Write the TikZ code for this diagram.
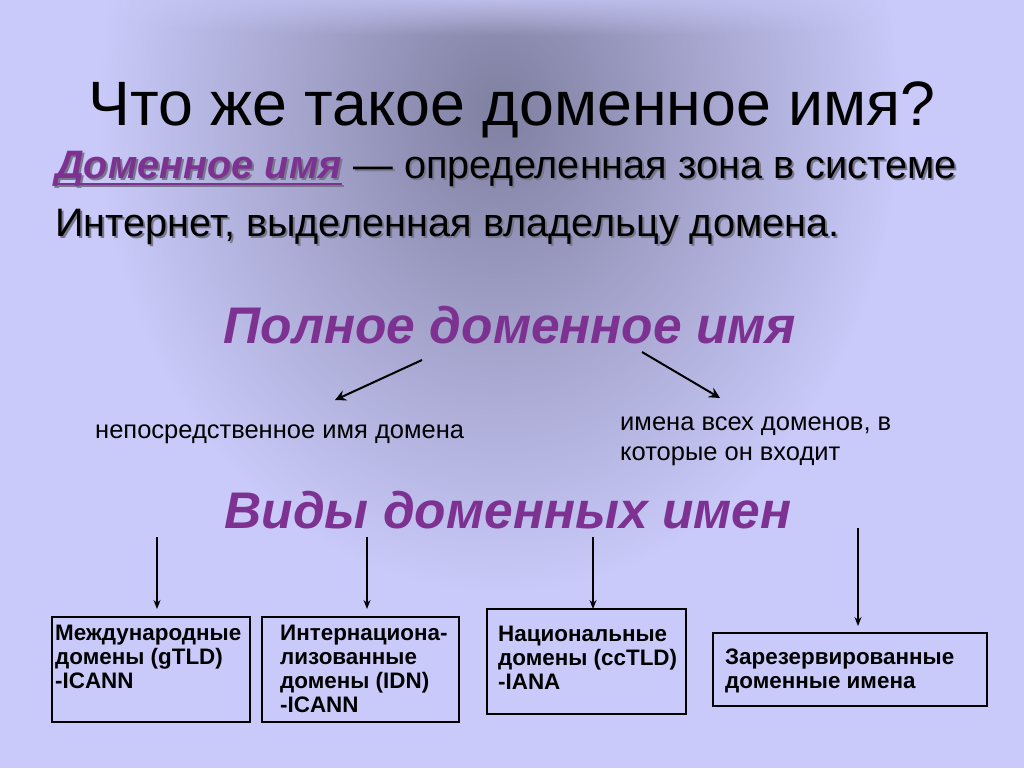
\documentclass[tikz,border=0pt]{standalone}
\usepackage{fontspec}
\setmainfont{Liberation Sans}
\usetikzlibrary{arrows.meta,fadings}
\tikzfading[name=myfade, inner color=transparent!0, outer color=transparent!100]
\definecolor{bgc}{RGB}{202,202,250}
\definecolor{darkc}{RGB}{128,128,162}
\definecolor{purp}{RGB}{125,50,145}
\definecolor{shad}{RGB}{120,120,140}
\begin{document}
\begin{tikzpicture}[x=1pt,y=-1pt,
  txt/.style={inner sep=0pt, anchor=base west},
  ttl/.style={txt, font=\fontsize{62.7}{70}\selectfont},
  big/.style={txt, font=\fontsize{39.7}{46}\selectfont},
  head/.style={inner sep=0pt, anchor=base, text=purp, font=\fontsize{51.5}{58}\selectfont\bfseries\itshape},
  small/.style={txt, font=\fontsize{25.5}{30}\selectfont},
  boxtxt/.style={inner sep=0pt, anchor=base west, align=left, font=\fontsize{22.4}{24}\selectfont\bfseries},
  box/.style={draw=black, line width=1.1pt, inner sep=0pt},
  diag/.style={line width=2pt, -{Stealth[length=11pt,width=11pt,inset=4pt]}},
  vert/.style={line width=1.4pt, -{Stealth[length=9pt,width=7pt]}}]
\useasboundingbox (0,0) rectangle (1024,768);
\fill[bgc] (0,0) rectangle (1024,768);
\begin{scope}
\clip (0,0) rectangle (1024,768);
\fill[darkc, path fading=myfade] (500,110) ellipse [x radius=400, y radius=480];
\fill[bgc, path fading=myfade] (512,-12) ellipse [x radius=700, y radius=48];
\end{scope}
% title
\node[ttl] (title) at (88,125) {Что же такое доменное имя?};
% definition with shadow
\node[big, text=shad] (dns) at (57,180) {\bfseries\itshape Доменное имя};
\node[big, text=shad] (zones) at (dns.base east) {\ — определенная зона в системе};
\draw[shad, line width=2.5pt] ([yshift=-6pt]dns.base west) -- ([yshift=-6pt]dns.base east);
\node[big, text=shad] (inets) at (57,238) {Интернет, выделенная владельцу домена.};
\node[big, text=purp] (dn) at (55,178) {\bfseries\itshape Доменное имя};
\node[big] (zone) at (dn.base east) {\ — определенная зона в системе};
\draw[purp, line width=2.5pt] ([yshift=-6pt]dn.base west) -- ([yshift=-6pt]dn.base east);
\node[big] (inet) at (55,236) {Интернет, выделенная владельцу домена.};
% full domain name
\node[head] (full) at (510,343) {Полное доменное имя};
\coordinate (l1s) at (422,360); \coordinate (l1e) at (335,400);
\coordinate (r1s) at (642,352); \coordinate (r1e) at (720,398);
\draw[diag] (l1s) -- (l1e);
\draw[diag] (r1s) -- (r1e);
\node[small] (direct) at (95,438) {непосредственное имя домена};
\node[small] (all1) at (620,430) {имена всех доменов, в};
\node[small] (all2) at (620,460) {которые он входит};
% kinds
\node[head] (kinds) at (508,528) {Виды доменных имен};
\node[box, minimum width=198pt, minimum height=105pt] (b1) at (151,669.5) {};
\node[box, minimum width=197pt, minimum height=105pt] (b2) at (360.5,669.5) {};
\node[box, minimum width=199pt, minimum height=105pt] (b3) at (586.5,661.5) {};
\node[box, minimum width=274pt, minimum height=73pt] (b4) at (850,669.5) {};
\coordinate (v1s) at (157,537); \coordinate (v1e) at (157,609);
\coordinate (v2s) at (367,537); \coordinate (v2e) at (367,609);
\coordinate (v3s) at (593,537); \coordinate (v3e) at (593,609);
\coordinate (v4s) at (858,528); \coordinate (v4e) at (858,626);
\draw[vert] (v1s) -- (v1e);
\draw[vert] (v2s) -- (v2e);
\draw[vert] (v3s) -- (v3e);
\draw[vert] (v4s) -- (v4e);
\node[boxtxt] (t1) at (55,688) {Международные\\домены (gTLD)\\-ICANN};
\node[boxtxt] (t2) at (280,712) {Интернациона-\\лизованные\\домены (IDN)\\-ICANN};
\node[boxtxt] (t3) at (498,689) {Национальные\\домены (ccTLD)\\-IANA};
\node[boxtxt] (t4) at (725,688) {Зарезервированные\\доменные имена};
\end{tikzpicture}
\end{document}
